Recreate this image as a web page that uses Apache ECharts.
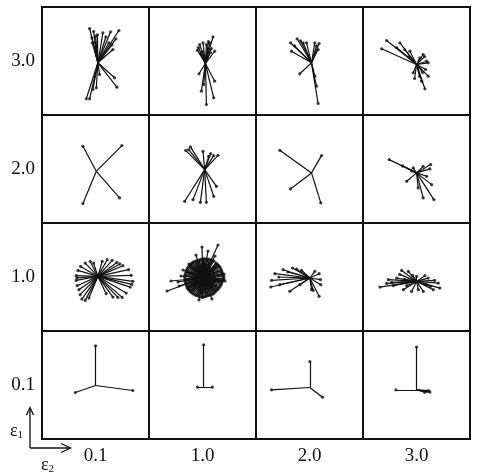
<!DOCTYPE html>
<html>
<head>
<meta charset="utf-8">
<script src="https://cdn.jsdelivr.net/npm/echarts@6/dist/echarts.min.js"></script>
<style>html,body{margin:0;padding:0;background:#fff}#c{width:477px;height:472px}</style>
</head>
<body>
<div id="c"></div>
<script>
// epsilon_2 (columns, left to right) and epsilon_1 (rows, bottom to top)
const colLabels = ['0.1', '1.0', '2.0', '3.0'];
const rowLabels = ['0.1', '1.0', '2.0', '3.0'];

// Star centres: [rowIndex, colIndex, dx, dy] offset from the panel centre (panel = 107 x 108 units)
const centers = [
  [3, 0, 2.4, -1.8], [3, 1, 2.9, -2.5], [3, 2, 2.0, -1.8], [3, 3, 0.1, -3.5],
  [2, 0, 0.8, -2.3], [2, 1, 2.2, -0.6], [2, 2, 2.0, -3.9], [2, 3, 0.1, -3.9],
  [1, 0, 2.4, 0.6], [1, 1, 0.5, -1.0], [1, 2, 0.3, -1.0], [1, 3, 0.1, -4.4],
  [0, 0, 0.1, -0.5], [0, 1, 1.2, -2.1], [0, 2, 0.3, -2.5], [0, 3, 0.1, -4.8]
];

// Ray end points [dx, dy] relative to each star centre
const rays_e3_e01 = [[-8.3,34.3],[-4.3,31.3],[-2.3,26.6],[-5.6,20],[-3,20.6],[5,30],[12.7,31],[21,32.3],[11,20],[15,13.3],[16.7,-15],[19,-24.4],[-1.6,-25],[-11.6,-36],[-8.3,-36],[-5,-26.7],[1.7,-11.7],[-0.5,28],[8,26],[18,24],[-6,25],[14,18]];
const rays_e3_e10 = [[-8,13.3],[-5.7,19],[-2.4,20.7],[1,19],[4.3,20.7],[7.6,26.7],[9.3,12.3],[2.6,14],[-6.4,-10.3],[9.3,-17.7],[-1.7,-21],[1,-41],[8.3,-34.3],[-4,-27.7],[-7,16],[6,15],[-3,12],[3,22],[-5,10],[5,11]];
const rays_e3_e20 = [[-21,20],[-20,11.6],[-14.4,24],[-8.4,20],[-5,20],[3.3,20],[7.6,19.3],[6.6,13.3],[-11.7,-11],[6.6,-40.7],[5,-23.4],[3.3,-13.4],[-17,17],[-11,22],[5,17]];
const rays_e3_e30 = [[-35,15.7],[-30,24],[-16.7,21.7],[-6.7,13.3],[6.6,10],[10,3.3],[11.6,1.7],[11.6,-11.7],[8.3,-24.3],[-3.4,-8.3],[3.3,6.7],[5,-16.7],[-12,15],[-20,17],[9,-5],[3,-12],[8,8],[-8,8],[6,-8],[-2,-14]];
const rays_e2_e01 = [[-13.4,25],[25.6,25.7],[-13.4,-32.3],[23.3,-26.6]];
const rays_e2_e10 = [[-19,19.3],[-14.3,22.7],[-1.7,18.3],[4,13.3],[9,14],[13.3,14.3],[-20,-31.7],[-11.7,-30],[-4.3,-32.7],[1.7,-32.7],[9,-26.7],[11.7,-16.7],[-16,20],[6,16]];
const rays_e2_e20 = [[-31.7,22.6],[10,17.3],[-21,-16],[9.3,-30]];
const rays_e2_e30 = [[-27.4,13.3],[-10,-8.4],[-3.4,5],[6.6,6.6],[14,8.3],[13.3,4],[15,-11.7],[6.6,-25],[17.3,-26.7],[1.6,-15],[10,-3.4],[-14,7],[-5,2]];
const rays_e1_e01 = [[-21.7,0.7],[-21.7,-4],[-20.7,-9.3],[-19,-13.3],[-17.7,-18.3],[-16,-22.7],[-12.7,-24],[-9,-21.7],[-20,6],[-17.3,10],[-12.7,13.3],[-7.7,15],[-4.3,13.3],[4.3,15],[9.3,16.7],[14.3,16],[19,14],[25,10.7],[30.7,6.7],[33.3,1],[35,-5],[32.3,-10.7],[28.3,-16.7],[24.3,-21],[15,-20.7],[8.3,-17.3],[-21,-1.5],[22,12.5],[34,-8],[20,-21]];
const rays_e1_e10 = [[20,0],[20,3],[19,6],[18,9],[17,11],[15,13],[13,15],[11,17],[8,18],[5,19],[2,19],[-1,19],[-4,18],[-7,17],[-10,16],[-12,14],[-14,12],[-16,9],[-17,6],[-18,3],[-18,0],[-18,-3],[-17,-6],[-16,-9],[-15,-11],[-13,-13],[-11,-15],[-8,-17],[-5,-18],[-2,-19],[1,-19],[4,-18],[7,-17],[10,-16],[12,-14],[14,-12],[16,-10],[18,-7],[19,-4],[20,-2],
  [16,2],[15,7],[12,11],[6,14],[0,15],[-6,14],[-11,10],[-14,5],[-15,-2],[-13,-8],[-9,-12],[-3,-15],[3,-15],[9,-12],[13,-8],[16,-4],
  [21,1.5],[19.5,4.5],[18.5,7.5],[16,12],[14,14],[9.5,17.5],[6.5,18.5],[3.5,19],[0.5,19.5],[-2.5,18.5],[-5.5,17.5],[-8.5,16.5],[-11,15],[-13,13],[-15,10.5],[-16.5,7.5],[-17.5,4.5],[-18.5,1.5],[-18,-1.5],[-17.5,-4.5],[-16.5,-7.5],[-15.5,-10],[-14,-12],[-12,-14],[-9.5,-16],[-6.5,-17.5],[-3.5,-18.5],[-0.5,-19.5],[2.5,-18.5],[5.5,-17.5],[8.5,-16.5],[11,-15],[13,-13],[15,-11],[17,-8.5],[18.5,-5.5],[19.5,-3],[21,-1],
  [12,1],[11,5],[9,8],[5,11],[1,12],[-4,11],[-8,9],[-11,5],[-12,1],[-11,-4],[-9,-8],[-5,-11],[0,-12],[5,-11],[9,-8],[11,-4],[13,-2],[7,10],[-7,10],[-10,-7],[8,-9],[-2,13],
  [-36,-13],[15,33],[-1,31],[5,27],[-32,-3],[-25,-4],[-22,2],[-14,14],[12,22],[-7,23],[9,-21],[-4,-22],[21,4],[22,-3],[-20,8],[-24,-8]];
const rays_e1_e20 = [[-39,-9],[-38.3,-2.3],[-35,4.3],[-26.7,8.3],[-17.3,10],[-13.3,9],[-8.3,7.7],[-30,-6.7],[-20,-13.3],[-10,-6.7],[5,6.7],[9.3,4.3],[10.7,-1.7],[11,-6.7],[9.3,-18.3],[3.3,-12.3],[1.7,-11.7],[-22,6],[-31,1]];
const rays_e1_e30 = [[-36.7,-5.7],[-28.3,1.7],[-15,11],[-8.3,10],[-23.3,-4.3],[-13.3,-8.3],[-5,-10],[1.7,-8.3],[6.7,-10],[11.7,3.3],[21.7,-1.7],[23.3,-6.7],[16.7,-8.3],[8.3,5.7],[0,5],[-20,3.3],[-10,-4.3],[10,-3.3],[-25,-1],[-17,7],[14,-5],[-4,6],[-30,-2],[18,1],[-12,2]];
const rays_e01_e01 = [[0,39.7],[-20.3,-7],[37.3,-5]];
const rays_e01_e10 = [[0,42.3],[-6.3,0],[8.7,0]];
const rays_e01_e20 = [[0,26],[-38.3,-2.3],[12.7,-9.7]];
const rays_e01_e30 = [[0,42.7],[-20.7,0],[13.3,-2.3],[10,-1.5],[8,-2.5],[12,-0.8]];

const panelRays = [
  rays_e3_e01, rays_e3_e10, rays_e3_e20, rays_e3_e30,
  rays_e2_e01, rays_e2_e10, rays_e2_e20, rays_e2_e30,
  rays_e1_e01, rays_e1_e10, rays_e1_e20, rays_e1_e30,
  rays_e01_e01, rays_e01_e10, rays_e01_e20, rays_e01_e30
];

const CW = 107, CH = 108;
const segs = [], dots = [];
centers.forEach((c, i) => {
  const cx = c[1] * CW + CW / 2 + c[2];
  const cy = c[0] * CH + CH / 2 + c[3];
  panelRays[i].forEach(r => {
    const ex = cx + r[0], ey = cy + r[1];
    segs.push({ coords: [[cx, cy], [ex, ey]] });
    dots.push([ex, ey]);
  });
});

const ink = '#111';
const chart = echarts.init(document.getElementById('c'), null, { renderer: 'canvas' });
chart.setOption({
  animation: false,
  backgroundColor: '#fff',
  grid: { left: 42, top: 7, width: 428, height: 432, show: true, borderColor: ink, borderWidth: 2, backgroundColor: 'transparent' },
  xAxis: [
    { type: 'value', min: 0, max: CW * 4, interval: CW, axisLabel: { show: false }, axisTick: { show: false }, axisLine: { show: false },
      splitLine: { show: true, lineStyle: { color: ink, width: 2 } } },
    { type: 'category', data: colLabels, position: 'bottom', boundaryGap: true, axisLine: { show: false }, axisTick: { show: false },
      splitLine: { show: false }, axisLabel: { fontFamily: 'Liberation Serif', fontSize: 19, color: ink, margin: 8 } }
  ],
  yAxis: [
    { type: 'value', min: 0, max: CH * 4, interval: CH, axisLabel: { show: false }, axisTick: { show: false }, axisLine: { show: false },
      splitLine: { show: true, lineStyle: { color: ink, width: 2 } } },
    { type: 'category', data: rowLabels, position: 'left', boundaryGap: true, axisLine: { show: false }, axisTick: { show: false },
      splitLine: { show: false }, axisLabel: { fontFamily: 'Liberation Serif', fontSize: 19, color: ink, margin: 7 } }
  ],
  series: [
    { type: 'lines', coordinateSystem: 'cartesian2d', xAxisIndex: 0, yAxisIndex: 0, polyline: false, silent: true,
      lineStyle: { color: ink, width: 1.2, opacity: 1, curveness: 0 }, data: segs },
    { type: 'scatter', xAxisIndex: 0, yAxisIndex: 0, symbol: 'circle', symbolSize: 3.2, silent: true,
      itemStyle: { color: ink }, data: dots }
  ],
  graphic: [
    { type: 'polyline', shape: { points: [[30, 448], [30, 408]] }, style: { stroke: ink, lineWidth: 1.3, fill: null } },
    { type: 'polyline', shape: { points: [[26.5, 415], [30, 407.5], [33.5, 415]] }, style: { stroke: ink, lineWidth: 1.3, fill: null } },
    { type: 'polyline', shape: { points: [[30, 448], [70.5, 448]] }, style: { stroke: ink, lineWidth: 1.3, fill: null } },
    { type: 'polyline', shape: { points: [[61, 443.5], [70.5, 448], [61, 452.5]] }, style: { stroke: ink, lineWidth: 1.3, fill: null } },
    { type: 'text', left: 10, top: 422, style: { text: '{e|ε}{s|1}', rich: { e: { fontFamily: 'Liberation Serif', fontSize: 18, fill: ink }, s: { fontFamily: 'Liberation Serif', fontSize: 11, fill: ink, padding: [8, 0, 0, 0] } } } },
    { type: 'text', left: 41, top: 456, style: { text: '{e|ε}{s|2}', rich: { e: { fontFamily: 'Liberation Serif', fontSize: 18, fill: ink }, s: { fontFamily: 'Liberation Serif', fontSize: 11, fill: ink, padding: [8, 0, 0, 0] } } } }
  ]
});
</script>
</body>
</html>
